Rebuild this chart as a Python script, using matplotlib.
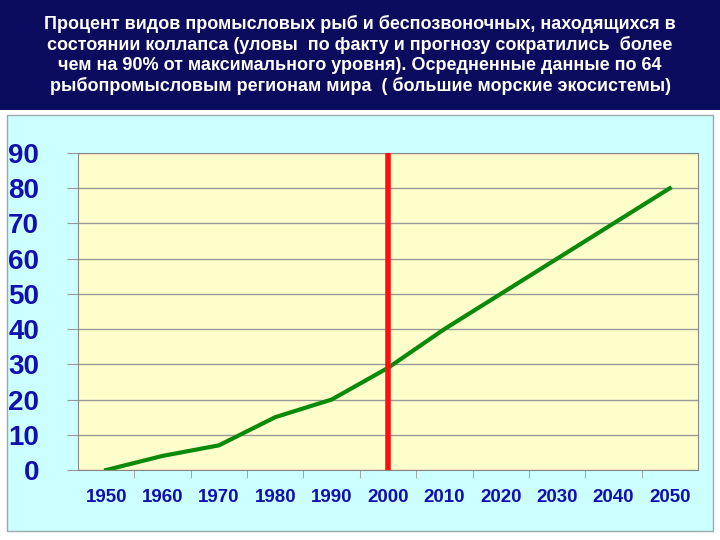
import matplotlib.pyplot as plt
from matplotlib.patches import Rectangle

plt.rcParams['font.family'] = ['Liberation Sans', 'DejaVu Sans']

years = ['1950', '1960', '1970', '1980', '1990', '2000', '2010', '2020', '2030', '2040', '2050']
collapsed_pct = [0, 4, 7, 15, 20, 29, 40, 50, 60, 70, 80]
y_ticks = [0, 10, 20, 30, 40, 50, 60, 70, 80, 90]
marker_year = '2000'

title = ('Процент видов промысловых рыб и беспозвоночных, находящихся в\n'
         'состоянии коллапса (уловы  по факту и прогнозу сократились  более\n'
         'чем на 90% от максимального уровня). Осредненные данные по 64\n'
         'рыбопромысловым регионам мира  ( большие морские экосистемы)')

fig = plt.figure(figsize=(7.2, 5.4), dpi=100)
fig.patch.set_facecolor('white')

# navy title band and light cyan panel, kept behind the axes
fig.patches.append(Rectangle((0, 1 - 110 / 540), 1, 110 / 540, transform=fig.transFigure,
                             facecolor='#0c0c5e', edgecolor='none', zorder=-5))
fig.patches.append(Rectangle((7 / 720, 1 - 531 / 540), 706 / 720, 416 / 540, transform=fig.transFigure,
                             facecolor='#ccffff', edgecolor='#9aaaaa', linewidth=1, zorder=-5))
fig.text(0.5, 1 - 55 / 540, title, ha='center', va='center', color='white',
         fontsize=13, fontweight='bold', linespacing=1.2)

ax = fig.add_axes([78 / 720, 1 - 470 / 540, 620 / 720, 317 / 540])
ax.set_facecolor('#ffffcc')
x = list(range(len(years)))
ax.plot(x, collapsed_pct, color='#0a8a0a', linewidth=3, zorder=3)
ax.axvline(years.index(marker_year), color='#ff1010', linewidth=4, zorder=4)

ax.set_xlim(-0.5, len(years) - 0.5)
ax.set_ylim(0, 90)
ax.set_yticks(y_ticks)
ax.set_yticklabels([str(v) for v in y_ticks], fontsize=20, fontweight='bold', color='#1010b0')
ax.set_xticks(x)
ax.set_xticklabels(years, fontsize=13.5, fontweight='bold', color='#1010b0')
ax.set_xticks([i + 0.5 for i in x[:-1]], minor=True)
ax.tick_params(axis='x', which='major', length=0, pad=14)
ax.tick_params(axis='x', which='minor', length=6, color='#999999')
ax.tick_params(axis='y', length=8, color='#999999', pad=20)
ax.grid(axis='y', color='#999999', linewidth=1)
ax.set_axisbelow(True)
for s in ax.spines.values():
    s.set_color('#888888')

plt.savefig('out.png', dpi=100)
